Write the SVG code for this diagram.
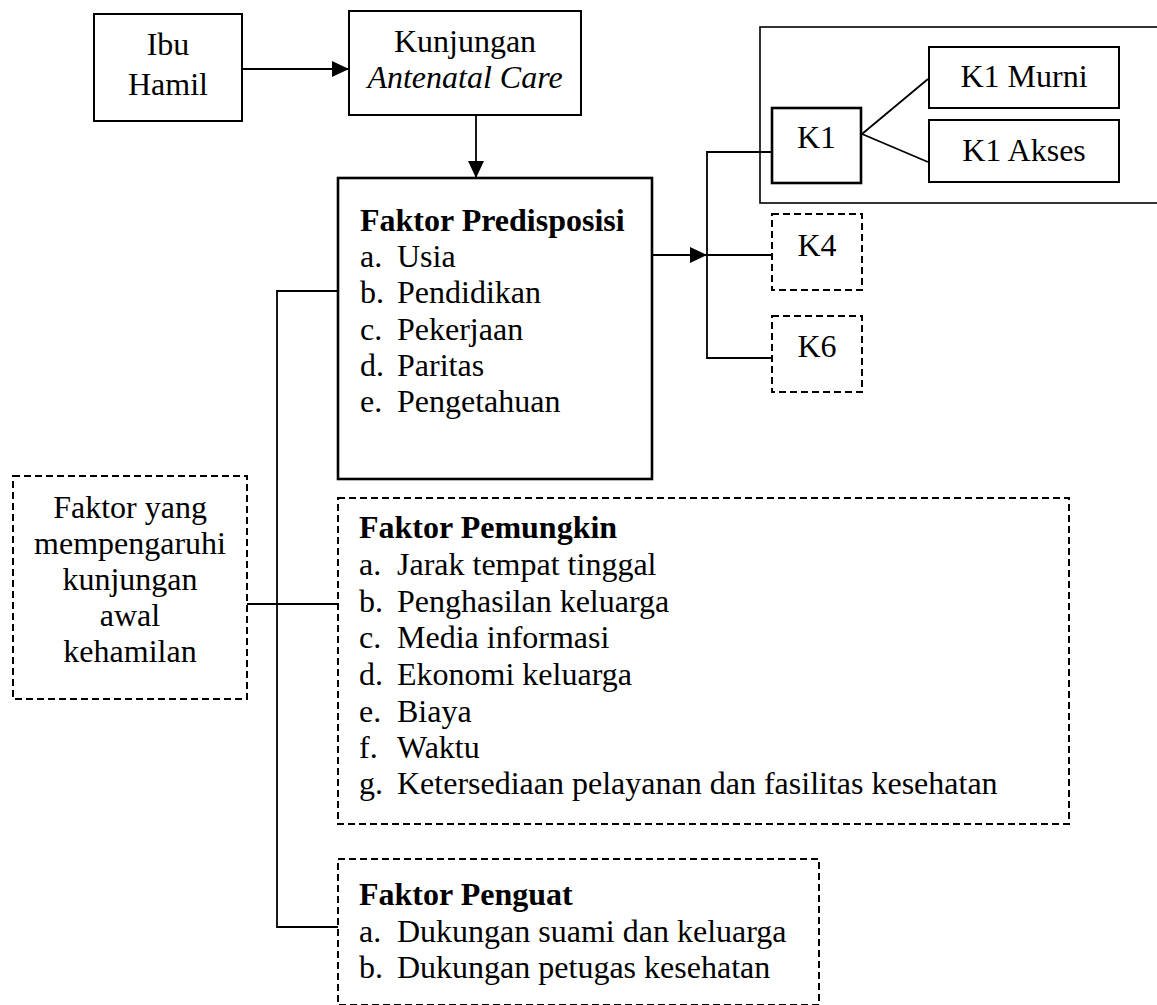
<svg xmlns="http://www.w3.org/2000/svg" width="1157" height="1005" viewBox="0 0 1157 1005">
<style>
text{font-family:"Liberation Serif","Times New Roman",serif;font-size:32px;fill:#000}
.c{text-anchor:middle}
.b{font-weight:bold}
.i{font-style:italic}
.box{fill:#fff;stroke:#000;stroke-width:2}
.frame{fill:none;stroke:#000;stroke-width:1.6}
.thick{stroke-width:2.6}
.dash{fill:#fff;stroke:#000;stroke-width:2;stroke-dasharray:7 4}
.ln{fill:none;stroke:#000;stroke-width:1.8}
</style>
<defs>
<marker id="ah" markerUnits="userSpaceOnUse" markerWidth="17" markerHeight="16" refX="17" refY="8" orient="auto">
<path d="M0,0 L17,8 L0,16 Z" fill="#000"/>
</marker>
</defs>
<g id="k1-group">
<rect class="frame" x="760" y="27" width="410" height="176"/>
</g>
<g id="connectors">
<line class="ln" x1="242" y1="69" x2="349" y2="69" marker-end="url(#ah)"/>
<line class="ln" x1="476" y1="115" x2="476" y2="178" marker-end="url(#ah)"/>
<line class="ln" x1="653" y1="255" x2="707" y2="255" marker-end="url(#ah)"/>
<path class="ln" d="M772,152 H707 V358 H772 M707,255 H772"/>
<path class="ln" d="M862,134 L928,79 M862,134 L928,162"/>
<path class="ln" d="M338,291 H277 V927 H338 M247,604 H338"/>
</g>
<g id="ibu-hamil">
<rect class="box" x="94" y="14" width="148" height="107"/>
<text class="c" x="168" y="55">Ibu</text>
<text class="c" x="168" y="95">Hamil</text>
</g>
<g id="kunjungan">
<rect class="box" x="349" y="11" width="232" height="104"/>
<text class="c" x="465" y="52">Kunjungan</text>
<text class="c i" x="465" y="88">Antenatal Care</text>
</g>
<g id="predisposisi">
<rect class="box thick" x="338" y="178" width="314" height="301"/>
<text class="b" x="360" y="231">Faktor Predisposisi</text>
<text x="360" y="267">a.</text><text x="397" y="267">Usia</text>
<text x="360" y="303">b.</text><text x="397" y="303">Pendidikan</text>
<text x="360" y="340">c.</text><text x="397" y="340">Pekerjaan</text>
<text x="360" y="376">d.</text><text x="397" y="376">Paritas</text>
<text x="360" y="412">e.</text><text x="397" y="412">Pengetahuan</text>
</g>
<g id="k1">
<rect class="box thick" x="772" y="108" width="89" height="75"/>
<text class="c" x="816.5" y="148">K1</text>
</g>
<g id="k1-murni">
<rect class="box" x="929" y="47" width="190" height="61"/>
<text class="c" x="1024" y="87">K1 Murni</text>
</g>
<g id="k1-akses">
<rect class="box" x="929" y="120" width="190" height="62"/>
<text class="c" x="1024" y="161">K1 Akses</text>
</g>
<g id="k4">
<rect class="dash" x="772" y="214" width="90" height="76"/>
<text class="c" x="817" y="256">K4</text>
</g>
<g id="k6">
<rect class="dash" x="772" y="316" width="90" height="76"/>
<text class="c" x="817" y="357">K6</text>
</g>
<g id="faktor-yang">
<rect class="dash" x="13" y="476" width="234" height="223"/>
<text class="c" x="130" y="518">Faktor yang</text>
<text class="c" x="130" y="554">mempengaruhi</text>
<text class="c" x="130" y="590">kunjungan</text>
<text class="c" x="130" y="626">awal</text>
<text class="c" x="130" y="662">kehamilan</text>
</g>
<g id="pemungkin">
<rect class="dash" x="338" y="498" width="731" height="326"/>
<text class="b" x="359" y="538">Faktor Pemungkin</text>
<text x="359" y="575">a.</text><text x="397" y="575">Jarak tempat tinggal</text>
<text x="359" y="612">b.</text><text x="397" y="612">Penghasilan keluarga</text>
<text x="359" y="648">c.</text><text x="397" y="648">Media informasi</text>
<text x="359" y="685">d.</text><text x="397" y="685">Ekonomi keluarga</text>
<text x="359" y="722">e.</text><text x="397" y="722">Biaya</text>
<text x="359" y="758">f.</text><text x="397" y="758">Waktu</text>
<text x="359" y="794">g.</text><text x="397" y="794">Ketersediaan pelayanan dan fasilitas kesehatan</text>
</g>
<g id="penguat">
<rect class="dash" x="338" y="859" width="481" height="146"/>
<text class="b" x="359" y="905">Faktor Penguat</text>
<text x="359" y="942">a.</text><text x="397" y="942">Dukungan suami dan keluarga</text>
<text x="359" y="978">b.</text><text x="397" y="978">Dukungan petugas kesehatan</text>
</g>
</svg>
